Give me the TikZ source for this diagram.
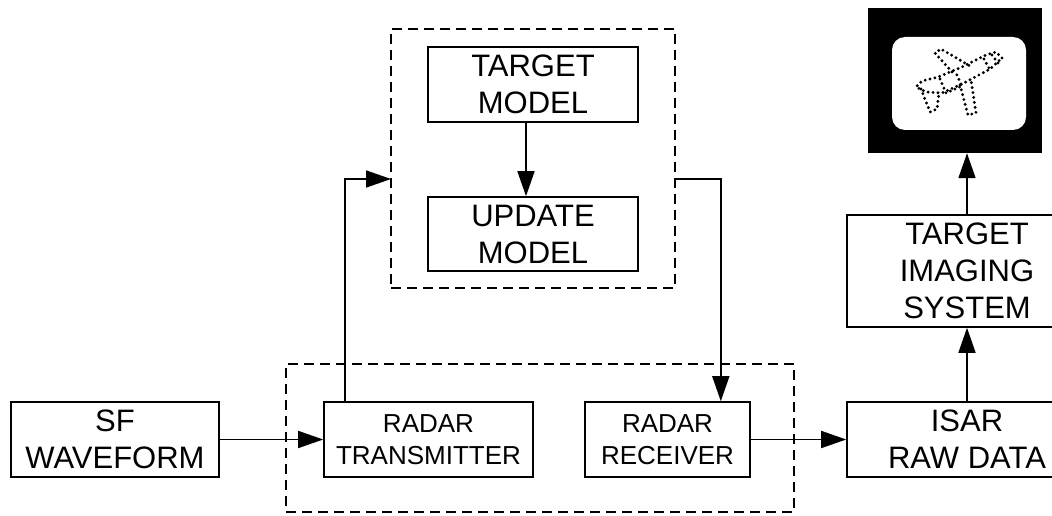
\documentclass[tikz,border=0pt]{standalone}
\usepackage{fontspec}
\setmainfont{Liberation Sans}
\usetikzlibrary{arrows.meta}
\begin{document}
\begin{tikzpicture}[x=1pt,y=-1pt,
  blk/.style={draw,line width=1.6pt,rectangle,inner sep=0pt,align=center,
    font=\fontsize{31}{37}\selectfont},
  small/.style={font=\fontsize{26}{32}\selectfont},
  group/.style={draw,line width=1.6pt,dash pattern=on 10pt off 6pt,rectangle,inner sep=0pt},
  arr/.style={line width=1.6pt,-{Triangle[length=25pt,width=17pt]}},
  dots/.style={line width=3.2pt,line cap=round,dash pattern=on 0pt off 5pt}]
\useasboundingbox (0,0) rectangle (1052,516);

% dashed groups
\node[group,minimum width=284pt,minimum height=259pt] (upper) at (533,158.5) {};
\node[group,minimum width=508pt,minimum height=148pt] (lower) at (540,438) {};

% blocks
\node[blk,minimum width=208pt,minimum height=75pt] (sf) at (115,439.5) {SF\\WAVEFORM};
\node[blk,small,minimum width=209pt,minimum height=75pt] (tx) at (428.5,439.5) {RADAR\\TRANSMITTER};
\node[blk,small,minimum width=165pt,minimum height=75pt] (rx) at (667.5,439.5) {RADAR\\RECEIVER};
\node[blk,minimum width=240pt,minimum height=75pt] (isar) at (967,439.5) {ISAR\\RAW DATA};
\node[blk,minimum width=240pt,minimum height=112pt] (tis) at (967,271) {TARGET\\IMAGING\\SYSTEM};
\node[blk,minimum width=210pt,minimum height=75pt] (tm) at (533,84.5) {TARGET\\MODEL};
\node[blk,minimum width=210pt,minimum height=74pt] (um) at (533,234) {UPDATE\\MODEL};

% display screen with the aircraft image
\node[rectangle,fill=black,minimum width=174pt,minimum height=145pt,inner sep=0pt] (screen) at (955,80.5) {};
\fill[white,rounded corners=13pt] (892,37) rectangle (1026,130);
\begin{scope}[black]
  % fuselage
  \draw[dots] (1002,58) -- (996,52) -- (986,55) -- (962,67) -- (938,77) -- (922,81) -- (916,87)
    -- (926,92) -- (942,93) -- (964,83) -- (990,69) -- cycle;
  % cockpit frame
  \draw[dots] (940,79) -- (946,93) -- (962,86) -- (956,73);
  % nose window
  \draw[dots] (984,59) -- (989,68) (992,55) -- (998,63);
  % upper wing
  \draw[dots] (952,72) -- (935,53) -- (941,49) -- (970,66);
  % lower wing
  \draw[dots] (960,85) -- (968,115) -- (976,113) -- (971,80);
  % tail fin
  \draw[dots] (921,89) -- (930,112) -- (937,109) -- (939,93);
\end{scope}

% connectors
\draw[arr] (sf) -- (tx);
\draw[arr] (rx) -- (isar);
\draw[arr] (isar) -- (tis);
\draw[arr] (tis.north) -- (tis.north |- screen.south);
\draw[arr] ([xshift=-7pt]tm.south) -- ([xshift=-7pt]um.north);

\coordinate (fbin) at (391,179);
\coordinate (fbout) at (675,179);
\draw[arr] ([xshift=22pt]tx.north west) |- (fbin);
\draw[arr] (fbout) -| ([xshift=-30pt]rx.north east);
\end{tikzpicture}
\end{document}
